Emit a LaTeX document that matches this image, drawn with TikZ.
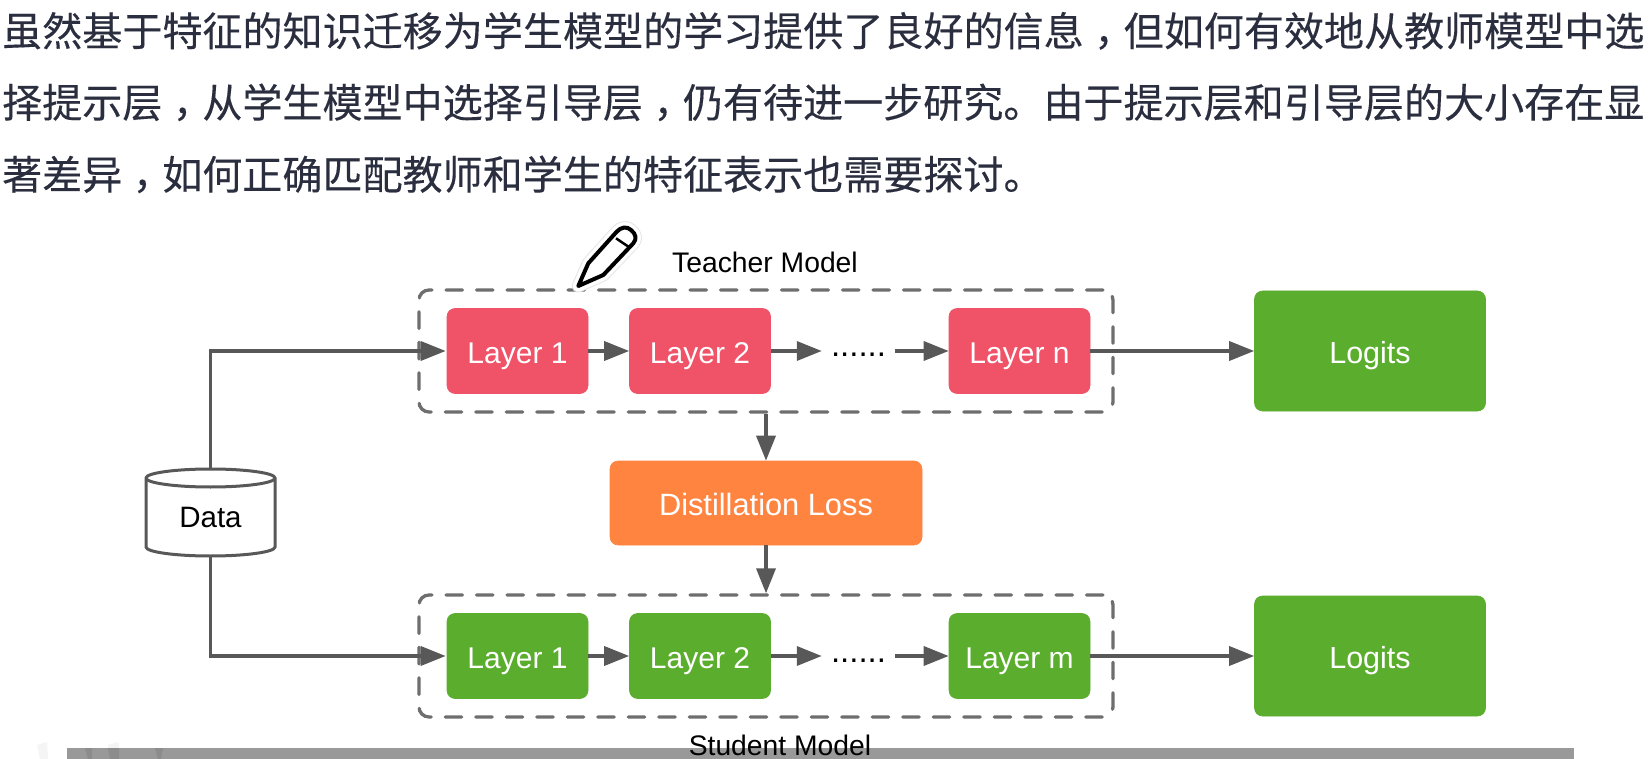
\documentclass[tikz,border=0pt]{standalone}
\usepackage{fontspec}
\setmainfont{Liberation Sans}
\newfontfamily\cjk[LetterSpace=0.15,FakeBold=0.25]{Noto Sans CJK SC}
\newfontfamily\cjktc[LetterSpace=0.15,FakeBold=0.25]{Noto Sans CJK TC}
\usetikzlibrary{arrows.meta}
\newcommand{\zcomma}{\raisebox{-.28em}{\cjktc ，}}
\definecolor{redbox}{HTML}{F05268}
\definecolor{greenbox}{HTML}{5BAE2D}
\definecolor{orangebox}{HTML}{FE8440}
\definecolor{linegrey}{HTML}{585858}
\definecolor{dashgrey}{HTML}{6E6E6E}
\definecolor{bodytext}{HTML}{2A2E3E}
\definecolor{barg}{HTML}{999999}
\tikzset{
  x=1pt,y=-1pt,
  labelf/.style={font=\fontsize{#1}{#1}\selectfont},
  bodyline/.style={anchor=base west,inner sep=0pt,text=bodytext,font=\fontsize{40}{40}\selectfont\cjk},
  box/.style={draw=#1,fill=#1,line width=.6pt,rounded corners=8pt,inner sep=0pt,text=white,text height=24pt,text depth=0pt},
  layerbox/.style={box=#1,labelf=30,minimum width=141pt,minimum height=85pt},
  logitbox/.style={box=#1,labelf=30.5,minimum width=231pt,minimum height=120pt},
  groupbox/.style={draw=dashgrey,line width=3.3pt,dash pattern=on 16.5pt off 14pt,line cap=round,rounded corners=10pt,minimum width=694pt,minimum height=122pt,inner sep=0pt},
  conn/.style={draw=linegrey,line width=3.5pt,-{Triangle[length=25pt,width=19pt,fill=linegrey]}},
  dotnode/.style={inner sep=0pt,minimum width=73pt,labelf=33,text=black,text height=8pt,text depth=8pt},
  caption/.style={inner sep=0pt,text=black,labelf=28.3},
}
\begin{document}
\begin{tikzpicture}
\useasboundingbox (0,0) rectangle (1650,759);
\fill[white] (0,0) rectangle (1650,759);
% body text
\node[bodyline] (lineA) at (2,46) {虽然基于特征的知识迁移为学生模型的学习提供了良好的信息\zcomma 但如何有效地从教师模型中选};
\node[bodyline] (lineB) at (2,117.5) {择提示层\zcomma 从学生模型中选择引导层\zcomma 仍有待进一步研究。由于提示层和引导层的大小存在显};
\node[bodyline] (lineC) at (2,189.5) {著差异\zcomma 如何正确匹配教师和学生的特征表示也需要探讨。};
% faint marks and bottom bar
\fill[gray!8] (37,745) -- (47,742) -- (48,759) -- (40,759) -- cycle;
\fill[gray!8] (108,745) -- (118,742) -- (119,748) -- (108,748) -- cycle;
\fill[barg] (67,748) rectangle (1574,759);
\fill[black!45] (85,748) -- (92,748) -- (92,759) -- (88,759) -- cycle;
\fill[black!45] (108,748) -- (119,748) -- (119,759) -- (110,759) -- cycle;
\fill[black!45] (155,748) -- (163,748) -- (161,759) -- (158,759) -- cycle;
% groups
\node[groupbox] (teacher) at (766,351) {};
\node[groupbox] (student) at (766,656) {};
% teacher row
\node[layerbox=redbox] (t1) at (517.5,351) {Layer 1};
\node[layerbox=redbox] (t2) at (700,351) {Layer 2};
\node[dotnode] (td) at (858.5,351) {\raisebox{-6pt}[0pt][0pt]{......}};
\node[layerbox=redbox] (tn) at (1019.5,351) {Layer n};
\node[logitbox=greenbox] (tl) at (1370,351) {Logits};
% student row
\node[layerbox=greenbox] (s1) at (517.5,656) {Layer 1};
\node[layerbox=greenbox] (s2) at (700,656) {Layer 2};
\node[dotnode] (sd) at (858.5,656) {\raisebox{-6pt}[0pt][0pt]{......}};
\node[layerbox=greenbox] (sm) at (1019.5,656) {Layer m};
\node[logitbox=greenbox] (sl) at (1370,656) {Logits};
% loss
\node[box=orangebox,labelf=30.8,minimum width=312pt,minimum height=84pt] (loss) at (766,503) {Distillation Loss};
% data
\draw[fill=white,draw=linegrey,line width=3pt]
  (146,478) -- (146,547) arc[start angle=180,end angle=0,x radius=64.5,y radius=9] -- (275,478)
  arc[start angle=0,end angle=180,x radius=64.5,y radius=-9] -- cycle;
\draw[draw=linegrey,line width=3pt] (146,478) arc[start angle=180,end angle=0,x radius=64.5,y radius=9];
\node[inner sep=0pt,labelf=29.5,text=black] (datal) at (210.5,517) {Data};
% connectors
\coordinate (dtop) at (210.5,469);
\coordinate (dbot) at (210.5,556);
\draw[conn,shorten >=1pt] (dtop) |- (t1.west);
\draw[conn,shorten >=1pt] (dbot) |- (s1.west);
\draw[conn] (t1) -- (t2);
\draw[conn] (t2) -- (td.west);
\draw[conn] (td.east) -- (tn.west);
\draw[conn] (tn) -- (tl);
\draw[conn] (s1) -- (s2);
\draw[conn] (s2) -- (sd.west);
\draw[conn] (sd.east) -- (sm.west);
\draw[conn] (sm) -- (sl);
\draw[conn] (teacher.south) -- (loss.north);
\draw[conn] (loss.south) -- (student.north);
% captions
\node[caption] (tcap) at (765,262) {Teacher Model};
\node[caption] (scap) at (780,745) {Student Model};
% pencil
\def\pencilpath{(578.3,286) -- (588.3,263.3) -- (616.7,231.7) .. controls (621,227) and (627,226) .. (631,230) .. controls (636,234) and (637,239) .. (633.3,243.3) -- (603.3,275) -- cycle}
\draw[draw=black!10,line width=13pt,line join=round] \pencilpath;
\draw[draw=white,fill=white,line width=11pt,line join=round] \pencilpath;
\draw[draw=black,fill=white,line width=4pt,line join=round] \pencilpath;
\draw[black,line width=2.5pt] (616,238.3) -- (629.3,247.3);
\end{tikzpicture}
\end{document}
